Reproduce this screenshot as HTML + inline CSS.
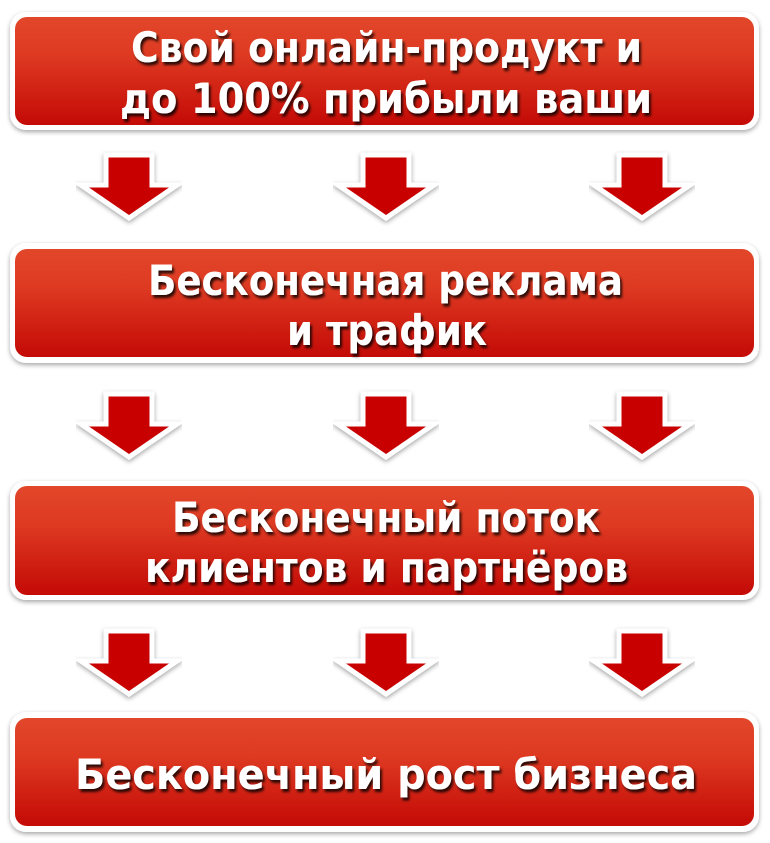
<!DOCTYPE html>
<html><head><meta charset="utf-8"><style>
html,body{margin:0;padding:0;background:#fff;width:770px;height:843px;overflow:hidden}
</style></head><body>
<svg width="770" height="843" viewBox="0 0 770 843" xmlns="http://www.w3.org/2000/svg">
<defs>
<linearGradient id="g" x1="0" y1="0" x2="0" y2="1">
<stop offset="0" stop-color="#e2472a"/>
<stop offset="0.35" stop-color="#de3a22"/>
<stop offset="1" stop-color="#c40a06"/>
</linearGradient>
<filter id="sh" x="-5%" y="-10%" width="110%" height="130%">
<feDropShadow dx="0" dy="2" stdDeviation="2.5" flood-color="#000" flood-opacity="0.35"/>
</filter>
<filter id="ts" x="-5%" y="-20%" width="110%" height="150%">
<feDropShadow dx="2" dy="3" stdDeviation="1.2" flood-color="#000" flood-opacity="0.8"/>
</filter>
<g id="arrow">
<path d="M-23,0 H23 V30 H48 L0,63 L-48,30 H-23 Z" fill="#c80000" stroke="#fff" stroke-width="5" stroke-linejoin="miter" filter="url(#sh)"/>
</g>
</defs>
<g font-family="'DejaVu Sans','Liberation Sans',sans-serif" font-weight="bold" font-size="42" fill="#fff">
<rect x="10" y="12" width="749" height="118" rx="16" fill="#fff" filter="url(#sh)"/>
<rect x="15" y="17" width="739" height="108" rx="12" fill="url(#g)"/>
<g filter="url(#ts)">
<text x="131" y="62" textLength="511" lengthAdjust="spacingAndGlyphs">Свой онлайн-продукт и</text>
<text x="120" y="113" textLength="532" lengthAdjust="spacingAndGlyphs">до 100% прибыли ваши</text>
</g>
<use href="#arrow" x="129" y="155"/><use href="#arrow" x="386" y="155"/><use href="#arrow" x="642" y="155"/>
<rect x="10" y="243" width="749" height="120" rx="16" fill="#fff" filter="url(#sh)"/>
<rect x="15" y="249" width="739" height="108" rx="12" fill="url(#g)"/>
<g filter="url(#ts)">
<text x="148" y="295" textLength="475" lengthAdjust="spacingAndGlyphs">Бесконечная реклама</text>
<text x="287" y="345" textLength="200" lengthAdjust="spacingAndGlyphs">и трафик</text>
</g>
<use href="#arrow" x="129" y="394"/><use href="#arrow" x="386" y="394"/><use href="#arrow" x="642" y="394"/>
<rect x="10" y="481" width="749" height="119" rx="16" fill="#fff" filter="url(#sh)"/>
<rect x="15" y="486" width="739" height="109" rx="12" fill="url(#g)"/>
<g filter="url(#ts)">
<text x="172" y="532" textLength="428" lengthAdjust="spacingAndGlyphs">Бесконечный поток</text>
<text x="145" y="582" textLength="483" lengthAdjust="spacingAndGlyphs">клиентов и партнёров</text>
</g>
<use href="#arrow" x="129" y="631"/><use href="#arrow" x="386" y="631"/><use href="#arrow" x="642" y="631"/>
<rect x="10" y="712" width="749" height="120" rx="16" fill="#fff" filter="url(#sh)"/>
<rect x="15" y="718" width="739" height="108" rx="12" fill="url(#g)"/>
<g filter="url(#ts)">
<text x="75" y="789" textLength="622" lengthAdjust="spacingAndGlyphs">Бесконечный рост бизнеса</text>
</g>
</g>
</svg>
</body></html>
